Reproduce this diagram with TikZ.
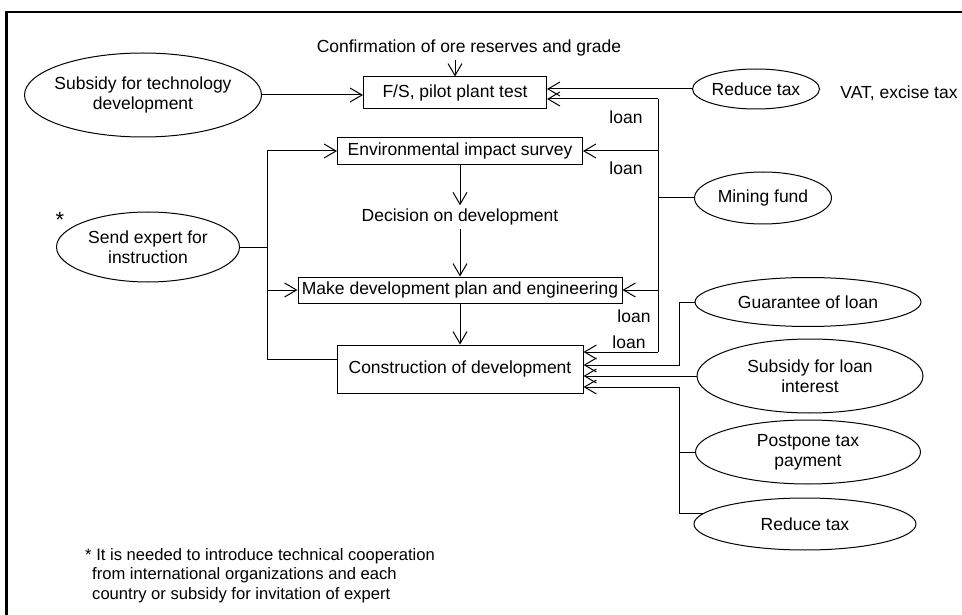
\documentclass[tikz,border=0pt]{standalone}
\usepackage{fontspec}
\setmainfont{Liberation Sans}
\usetikzlibrary{shapes.geometric,arrows.meta}
\tikzset{
  box/.style={draw, line width=1pt, inner sep=0pt},
  oval/.style={draw, ellipse, line width=1pt, inner sep=0pt, inner xsep=-4pt, align=center},
  arr/.style={-{Straight Barb[length=12pt,width=14pt]}, line width=1pt},
  ln/.style={line width=1pt}
}
\begin{document}
\begin{tikzpicture}[x=1pt, y=-1pt, font=\fontsize{17.5}{20}\selectfont]
      \useasboundingbox (0,0) rectangle (962,615);
      \draw[line width=2.5pt] (6.5,615) -- (6.5,12) -- (962,12);
      % main steps
      \node (conf) at (469,48) {Confirmation of ore reserves and grade};
      \node[box, minimum width=183pt, minimum height=32pt] (fs) at (455,93) {F/S, pilot plant test};
      \node[box, minimum width=245pt, minimum height=27pt] (env) at (460,151) {Environmental impact survey};
      \node (dec) at (460,217) {Decision on development};
      \node[box, minimum width=324pt, minimum height=26pt] (mk) at (460,290) {Make development plan and engineering};
      \node[box, minimum width=246pt, minimum height=48pt] (con) at (460,369) {Construction of development};
      % supports
      \node[oval, inner xsep=-10pt, minimum width=237pt, minimum height=84pt] (sub1) at (143,95) {Subsidy for technology\\development};
      \node[oval, minimum width=127pt, minimum height=40pt] (tax1) at (756,89) {Reduce tax};
      \node (vat) at (899,93) {VAT, excise tax};
      \node[oval, minimum width=137pt, minimum height=52pt] (fund) at (763,198) {Mining fund};
      \node[oval, minimum width=183pt, minimum height=70pt] (exp) at (148,247) {Send expert for\\instruction};
      \node[font=\fontsize{22}{24}\selectfont] (star) at (60,220) {*};
      \node[oval, minimum width=226pt, minimum height=49pt] (gua) at (808,302) {Guarantee of loan};
      \node[oval, minimum width=226pt, minimum height=74pt] (int) at (810,376) {Subsidy for loan\\interest};
      \node[oval, minimum width=225pt, minimum height=64pt] (post) at (808,452) {Postpone tax\\payment};
      \node[oval, minimum width=222pt, minimum height=52pt] (tax2) at (805,524) {Reduce tax};
      \node (ln1) at (626,117) {loan};
      \node (ln2) at (626,168) {loan};
      \node (ln3) at (634,316) {loan};
      \node (ln4) at (629,342) {loan};
      \node[align=left, anchor=north west, inner sep=0pt, font=\fontsize{16.6}{19.5}\selectfont] (note) at (85,548)
        {* It is needed to introduce technical cooperation\\\hspace*{7pt}from international organizations and each\\\hspace*{7pt}country or subsidy for invitation of expert};
      \coordinate (rb1) at (658,99);
      \coordinate (rb2) at (658,352);
      \coordinate (lb1) at (267,151);
      \coordinate (lb2) at (267,359);
      \coordinate (g) at (679,365);
      \coordinate (p) at (679,387);
      % flow
      \draw[arr] (fs.north |- conf.south) -- (fs.north);
      \draw[arr] (env) -- (dec);
      \draw[arr] (dec) -- (mk);
      \draw[arr] (mk) -- (con);
      \draw[arr] (sub1.east) -- (sub1.east -| fs.west);
      \draw[arr] (tax1.west) -- (tax1.west -| fs.east);
      % loans
      \draw[ln] (rb1) -- (rb2);
      \draw[ln] (fund.west) -- (fund.west -| rb1);
      \draw[arr] (rb1) -- (rb1 -| fs.east);
      \draw[arr] (rb1 |- env.east) -- (env.east);
      \draw[arr] (rb1 |- mk.east) -- (mk.east);
      \draw[arr] (rb2) -- (rb2 -| con.east);
      % experts
      \draw[ln] (lb1) -- (lb2);
      \draw[ln] (exp.east) -- (exp.east -| lb1);
      \draw[arr] (lb1) -- (env.west);
      \draw[arr] (lb1 |- mk.west) -- (mk.west);
      \draw[ln] (lb2) -- (lb2 -| con.west);
      % construction support
      \draw[arr] (gua.west) -| (g) -- (g -| con.east);
      \draw[arr] (int.west) -- (int.west -| con.east);
      \draw[arr] (tax2.174) -| (p) -- (p -| con.east);
      \draw[ln] (post.west) -- (post.west -| p);
\end{tikzpicture}
\end{document}
